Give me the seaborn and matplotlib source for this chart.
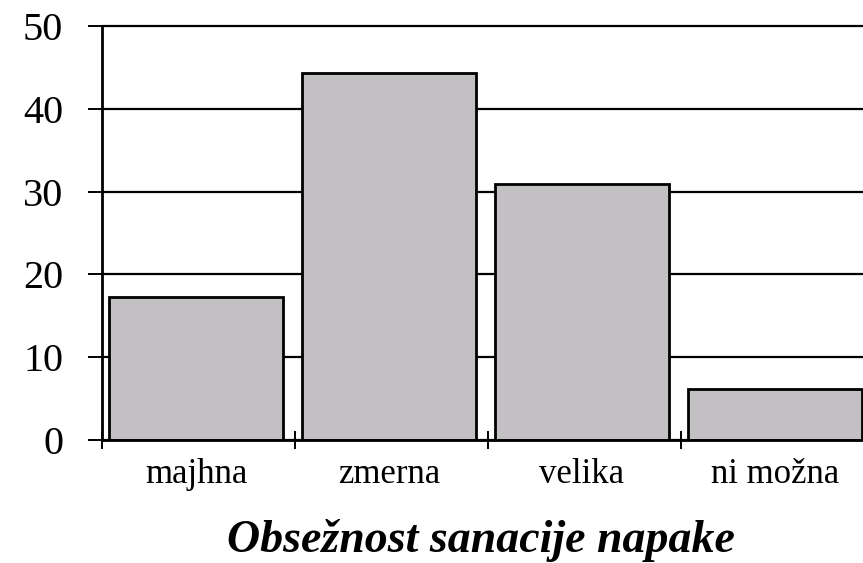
import matplotlib
matplotlib.use("Agg")
import matplotlib.pyplot as plt
import numpy as np
import pandas as pd
import seaborn as sns

# data
categories = ["majhna", "zmerna", "velika", "ni možna"]
values = [17.3, 44.3, 30.9, 6.2]
y_ticks = [0, 10, 20, 30, 40, 50]
x_title = "Obsežnost sanacije napake"

df = pd.DataFrame({"cat": categories, "val": values})

sns.set_style("white")
plt.rcParams["font.family"] = ["Liberation Serif", "DejaVu Serif"]
plt.rcParams["text.color"] = "black"
plt.rcParams["xtick.color"] = "black"
plt.rcParams["ytick.color"] = "black"

fig = plt.figure(figsize=(8.63, 5.63), dpi=100)
ax = fig.add_axes([102 / 863, 123 / 563, 761 / 863, 414 / 563])

sns.barplot(data=df, x="cat", y="val", color="#c3c0c4", saturation=1,
            edgecolor="black", linewidth=2, width=0.9, ax=ax, zorder=3)

# category slots are slightly offset from the bars in the original
x0 = -0.487
ax.set_xlim(x0, x0 + 761 / 193)
ax.set_ylim(0, 50)

# horizontal grid lines
ax.set_yticks(y_ticks)
ax.yaxis.grid(True, color="black", linewidth=1.6)
ax.set_axisbelow(True)
for line in ax.get_ygridlines():
    line.set_clip_on(False)

for s in ["top", "right"]:
    ax.spines[s].set_visible(False)
for s in ["left", "bottom"]:
    ax.spines[s].set_color("black")
    ax.spines[s].set_linewidth(2)
    ax.spines[s].set_zorder(4)

ax.tick_params(axis="y", direction="out", length=10, width=1.4, color="black",
               labelcolor="black", labelsize=29, pad=18, left=True)
ax.set_xticks(range(len(categories)))
ax.set_xticklabels(categories)
ax.set_xticks(np.arange(len(categories)) + x0, minor=True)
ax.tick_params(axis="x", which="major", length=0, labelsize=25, pad=13,
               labelcolor="black")
ax.tick_params(axis="x", which="minor", direction="inout", length=13, width=1.4,
               color="black", bottom=True)

ax.set_ylabel("")
ax.set_xlabel("")
fig.text(481 / 863, 1 - 540 / 563, x_title, fontsize=33, fontweight="bold",
         fontstyle="italic", ha="center", va="center", color="black")

fig.savefig("out.png", dpi=100)
